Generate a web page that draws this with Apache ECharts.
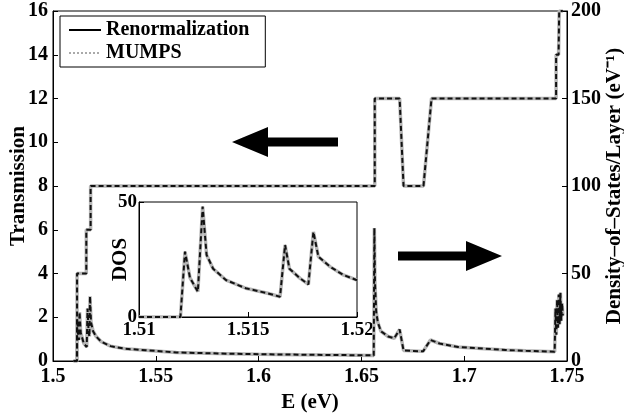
<!DOCTYPE html>
<html>
<head>
<meta charset="utf-8">
<script src="https://cdn.jsdelivr.net/npm/echarts@6/dist/echarts.min.js"></script>
<style>
  html, body { margin: 0; padding: 0; background: #fff; }
  #chart { width: 624px; height: 413px; }
</style>
</head>
<body>
<div id="chart"></div>
<script>
// transmission steps (left axis)
var transE = [1.51, 1.5117, 1.5117, 1.5162, 1.5162, 1.5183, 1.5183, 1.6565, 1.6565, 1.6686, 1.6705, 1.6802, 1.6841, 1.7447, 1.7447, 1.7459, 1.7462, 1.748];
var transT = [0, 0, 4, 4, 6, 6, 8, 8, 12, 12, 8, 8, 12, 12, 14, 14, 16, 16];

// density of states (right axis)
var dosE = [1.51, 1.5116, 1.5118, 1.5122, 1.5126, 1.5129, 1.5135, 1.5150, 1.5164, 1.5168, 1.5173, 1.5177, 1.5180, 1.5185, 1.5195, 1.521, 1.5235, 1.528, 1.535, 1.545, 1.56, 1.58, 1.60, 1.62, 1.64, 1.656, 1.6563, 1.6566, 1.6572, 1.658, 1.6595, 1.663, 1.666, 1.6686, 1.6705, 1.680, 1.6836, 1.688, 1.697, 1.71, 1.72, 1.73, 1.744, 1.7444, 1.7448, 1.7452, 1.7456, 1.746, 1.7464, 1.7468, 1.7472, 1.7476, 1.748];
var dosV = [0, 0, 24, 14, 12, 28, 16, 10, 8, 30, 17, 14, 37, 22, 17, 14, 11, 8.5, 7, 6.2, 4.9, 4.3, 3.9, 3.6, 3.4, 3.2, 76, 45, 28, 22, 17, 14, 13, 18, 6, 5.5, 12, 10, 8, 7, 6.3, 5.8, 5.3, 30, 15, 35, 19, 38, 21, 39, 23, 33, 26];

// inset: DOS zoomed 1.51 - 1.52
var insetE = [1.51, 1.5119, 1.51211, 1.51234, 1.5127, 1.51292, 1.5131, 1.5134, 1.514, 1.5149, 1.5159, 1.51647, 1.5167, 1.5169, 1.51739, 1.51777, 1.518, 1.51823, 1.51876, 1.51937, 1.52];
var insetV = [0, 0, 28.4, 17, 11, 48, 27, 21, 16, 12.5, 10.3, 8.8, 31.3, 21, 16.8, 14.2, 37, 26.2, 21.9, 18.3, 16];

function pairs(xs, ys) {
    var out = [];
    for (var i = 0; i < xs.length; i++) out.push([xs[i], ys[i]]);
    return out;
}

var font = 'Liberation Serif';
var lbl = { fontFamily: font, fontWeight: 'bold', fontSize: 20, color: '#000' };
var lblSmall = { fontFamily: font, fontWeight: 'bold', fontSize: 19, color: '#000' };
var nameStyle = { fontFamily: font, fontWeight: 'bold', fontSize: 21, color: '#000' };
var axLine = { lineStyle: { color: '#000', width: 1 } };
var tick = { inside: true, length: 5, lineStyle: { color: '#000' } };

// gray (MUMPS) under black dashed (Renormalization)
function pair(data, xi, yi) {
    return [{
        name: 'MUMPS', type: 'line', data: data, xAxisIndex: xi, yAxisIndex: yi,
        symbol: 'none', animation: false, z: 2, itemStyle: { color: '#aaa' },
        lineStyle: { color: '#b5b5b5', width: 3.5, type: 'solid' }
    }, {
        name: 'Renormalization', type: 'line', data: data, xAxisIndex: xi, yAxisIndex: yi,
        symbol: 'none', animation: false, z: 3, itemStyle: { color: '#000' },
        lineStyle: { color: '#111', width: 2, type: [5, 3] }
    }];
}

var dom = document.getElementById('chart');
var myChart = echarts.init(dom);

var series = [].concat(
    pair(pairs(transE, transT), 0, 0),
    pair(pairs(dosE, dosV), 0, 1),
    pair(pairs(insetE, insetV), 1, 2)
);

var option = {
    backgroundColor: '#fff',
    animation: false,
    grid: [
        { left: 53, right: 57, top: 11, bottom: 52, show: true, borderColor: '#000', borderWidth: 1, backgroundColor: 'transparent', outerBoundsMode: 'none', containLabel: false },
        { left: 139, top: 202, width: 218, height: 115, show: true, borderColor: '#000', borderWidth: 1, backgroundColor: '#fff', outerBoundsMode: 'none', containLabel: false }
    ],
    legend: {
        left: 60, top: 16, orient: 'vertical',
        backgroundColor: '#fff', borderColor: '#000', borderWidth: 1,
        padding: [4, 16, 4, 8], itemGap: 3, itemWidth: 32, itemHeight: 14,
        textStyle: { fontFamily: font, fontWeight: 'bold', fontSize: 20, color: '#000' },
        data: [
            { name: 'Renormalization', itemStyle: { opacity: 0 }, lineStyle: { color: '#000', width: 2, type: 'solid' } },
            { name: 'MUMPS', itemStyle: { opacity: 0 }, lineStyle: { color: '#aaa', width: 2, type: 'dotted' } }
        ]
    },
    xAxis: [{
        gridIndex: 0, type: 'value', min: 1.5, max: 1.75, interval: 0.05,
        name: 'E (eV)', nameLocation: 'middle', nameGap: 31, nameMoveOverlap: false, nameTextStyle: nameStyle,
        axisLine: axLine, axisTick: tick, splitLine: { show: false },
        axisLabel: Object.assign({ margin: 6 }, lbl)
    }, {
        gridIndex: 1, type: 'value', min: 1.51, max: 1.52, interval: 0.005,
        axisLine: axLine, axisTick: tick, splitLine: { show: false },
        axisLabel: Object.assign({ margin: 4 }, lblSmall)
    }],
    yAxis: [{
        gridIndex: 0, type: 'value', min: 0, max: 16, interval: 2,
        name: 'Transmission', nameLocation: 'middle', nameGap: 24, nameMoveOverlap: false, nameTextStyle: nameStyle,
        axisLine: axLine, axisTick: tick, splitLine: { show: false },
        axisLabel: Object.assign({ margin: 5 }, lbl)
    }, {
        gridIndex: 0, type: 'value', min: 0, max: 200, interval: 50, position: 'right',
        name: 'Density\u2013of\u2013States/Layer (eV\u207B\u00B9)', nameLocation: 'middle', nameGap: 37, nameMoveOverlap: false,
        nameRotate: 90, nameTextStyle: nameStyle,
        axisLine: axLine, axisTick: tick, splitLine: { show: false },
        axisLabel: Object.assign({ margin: 4 }, lbl)
    }, {
        gridIndex: 1, type: 'value', min: 0, max: 50, interval: 50,
        name: 'DOS', nameLocation: 'middle', nameGap: 8, nameMoveOverlap: false, nameTextStyle: nameStyle,
        axisLine: axLine, axisTick: tick, splitLine: { show: false },
        axisLabel: Object.assign({ margin: 2 }, lblSmall)
    }],
    graphic: [
        // left arrow -> transmission axis
        { type: 'polygon', z: 10, shape: { points: [[232, 142], [268, 127], [268, 137.5], [338, 137.5], [338, 146.5], [268, 146.5], [268, 157]] }, style: { fill: '#000' } },
        // right arrow -> DOS axis
        { type: 'polygon', z: 10, shape: { points: [[502, 256], [466, 241], [466, 251.5], [398, 251.5], [398, 260.5], [466, 260.5], [466, 271]] }, style: { fill: '#000' } }
    ],
    series: series
};

myChart.setOption(option);
window.onresize = myChart.resize;
</script>
</body>
</html>
